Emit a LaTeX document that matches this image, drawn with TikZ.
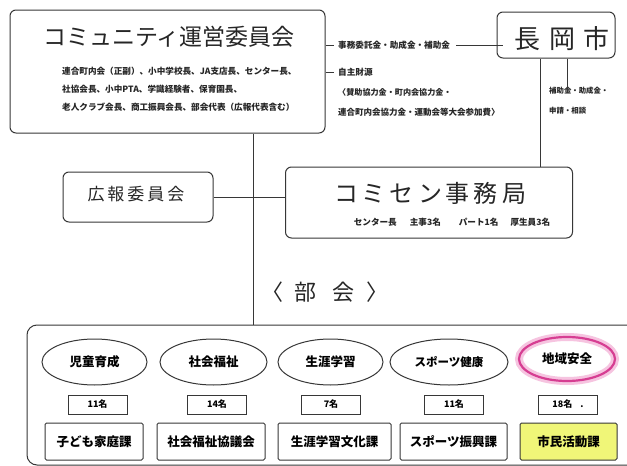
\documentclass[tikz,border=0pt]{standalone}
\usepackage{fontspec}
\newfontfamily\jp{Noto Sans CJK JP}
\usetikzlibrary{shapes.geometric,calc}
\newcommand\fsz[1]{\jp\fontsize{#1}{#1}\selectfont}
\newcommand\fsb[1]{\jp\bfseries\fontsize{#1}{#1}\selectfont}
\definecolor{lncol}{RGB}{55,55,55}
\definecolor{pinkmain}{RGB}{214,62,146}
\definecolor{pinkglow}{RGB}{246,196,224}
\definecolor{yellowbox}{RGB}{240,246,120}
\begin{document}
\begin{tikzpicture}[x=1pt,y=-1pt,
  ln/.style={draw=lncol, line width=1pt},
  rbox/.style={ln, rectangle, rounded corners=6pt, inner sep=0pt},
  ell/.style={ln, ellipse, inner sep=0pt, minimum height=46pt},
  cnt/.style={ln, rectangle, minimum width=59pt, minimum height=19pt, inner sep=0pt, font=\fsb{9}},
  dept/.style={ln, rectangle, rounded corners=1.5pt, minimum height=37pt, inner sep=0pt, font=\fsb{12.5}},
  txt/.style={inner sep=0pt, text=black!85}
]
\useasboundingbox (0,0) rectangle (627,466);
\fill[white] (0,0) rectangle (627,466);
\clip (0,0) rectangle (627,466);

% ---- main committee box
\node[rbox, minimum width=315pt, minimum height=123pt] (cu) at (167.5,71.5) {};
\node[txt, font=\fsz{23}] (cut) at (169,37) {コミュニティ運営委員会};
\node[txt, anchor=west, font=\fsb{8.6}] (cu1) at (62,71) {連合町内会（正副）、小中学校長、JA支店長、センター長、};
\node[txt, anchor=west, font=\fsb{8.6}] (cu2) at (62,89) {社協会長、小中PTA、学識経験者、保育園長、};
\node[txt, anchor=west, font=\fsb{8.6}] (cu3) at (62,107) {老人クラブ会長、商工振興会長、部会代表（広報代表含む）};

% ---- Nagaoka city
\node[rbox, minimum width=118pt, minimum height=46pt] (nag) at (556,35) {};
\node[txt, font=\fsz{26}] (nagt) at (562,39) {長\hspace{9pt}岡\hspace{9pt}市};

% ---- finance texts
\node[txt, anchor=west, font=\fsb{8.6}] (f1) at (338,45) {事務委託金・助成金・補助金};
\node[txt, anchor=west, font=\fsb{8.6}] (f2) at (338,72) {自主財源};
\node[txt, anchor=west, font=\fsb{8.1}] (f3) at (338,92) {〈賛助協力金・町内会協力金・};
\node[txt, anchor=west, font=\fsb{8.5}] (f4) at (338,112) {連合町内会協力金・運動会等大会参加費〉};
\draw[ln] (f1.west -| cu.east) -- ([xshift=-4pt]f1.west);
\draw[ln] (f2.west -| cu.east) -- ([xshift=-4pt]f2.west);
\draw[ln] ([xshift=6pt]f1.east) -- ([xshift=6pt]f1.east -| nag.west);

\node[txt, anchor=north west, align=left, font=\fsb{7.4}] (hojo) at (549,87) {補助金・助成金・\\[12pt]申請・相談};

% ---- PR committee and office
\node[rbox, minimum width=150pt, minimum height=50pt] (koho) at (138,197) {};
\node[txt, font=\fsz{17}] (kohot) at (136,194) {広\hspace{3pt}報\hspace{3pt}委\hspace{3pt}員\hspace{3pt}会};
\node[rbox, minimum width=287pt, minimum height=71pt] (jim) at (429,202.5) {};
\node[txt, font=\fsz{24}] (jimt) at (430,193) {コ\hspace{4pt}ミ\hspace{4pt}セ\hspace{4pt}ン\hspace{4pt}事\hspace{4pt}務\hspace{4pt}局};
\node[txt, font=\fsb{8.6}] (jims) at (452,222) {センター長\hspace{13pt}主事3名\hspace{18pt}パート1名\hspace{12pt}厚生員3名};

\draw[ln] (koho.east) -- (koho.east -| jim.west);
\draw[ln] ([xshift=-16pt]nag.south) -- ([xshift=-16pt]nag.south |- jim.north);
\draw[ln] ([xshift=11pt]nag.south) -- ([xshift=11pt,yshift=-6pt]nag.south |- hojo.north);

% ---- bukai
\node[txt, font=\fsz{22}] (bk) at (325,292) {〈\hspace{12pt}部\hspace{16pt}会\hspace{12pt}〉};

\node[ln, rectangle, rounded corners=10pt, minimum width=613pt, minimum height=140pt, inner sep=0pt] (bb) at (333.5,395) {};
\draw[ln] ([xshift=85.5pt]cu.south) -- ([xshift=85.5pt]cu.south |- bb.north);

% ellipses
\node[ell, minimum width=105pt, font=\fsb{12.5}] (e1) at (94.5,362) {児童育成};
\node[ell, minimum width=107pt, font=\fsb{12.5}] (e2) at (213.5,362) {社会福祉};
\node[ell, minimum width=105pt, font=\fsb{12.5}] (e3) at (330.5,362) {生涯学習};
\node[ell, minimum width=118pt, font=\fsb{11.5}] (e4) at (449,362) {スポーツ健康};
\node[ellipse, inner sep=0pt, minimum height=44pt, minimum width=96pt, font=\fsb{12.5},
      draw=pinkmain, line width=2.2pt, preaction={draw=pinkglow, line width=8pt}] (e5) at (567,359) {地域安全};

% counts
\node[cnt] (c1) at (97.5,404.5) {11名};
\node[cnt] (c2) at (217,404.5) {14名};
\node[cnt] (c3) at (331,404.5) {7名};
\node[cnt] (c4) at (454,404.5) {11名};
\node[cnt] (c5) at (568,404.5) {18名\hspace{8pt}.};

% departments
\node[dept, minimum width=98pt] (d1) at (94,441.5) {子ども家庭課};
\node[dept, minimum width=108pt] (d2) at (211,441.5) {社会福祉協議会};
\node[dept, minimum width=113pt] (d3) at (334.5,441.5) {生涯学習文化課};
\node[dept, minimum width=107pt] (d4) at (453.5,441.5) {スポーツ振興課};
\node[dept, minimum width=97pt, fill=yellowbox] (d5) at (568.5,441.5) {市民活動課};
\end{tikzpicture}
\end{document}
